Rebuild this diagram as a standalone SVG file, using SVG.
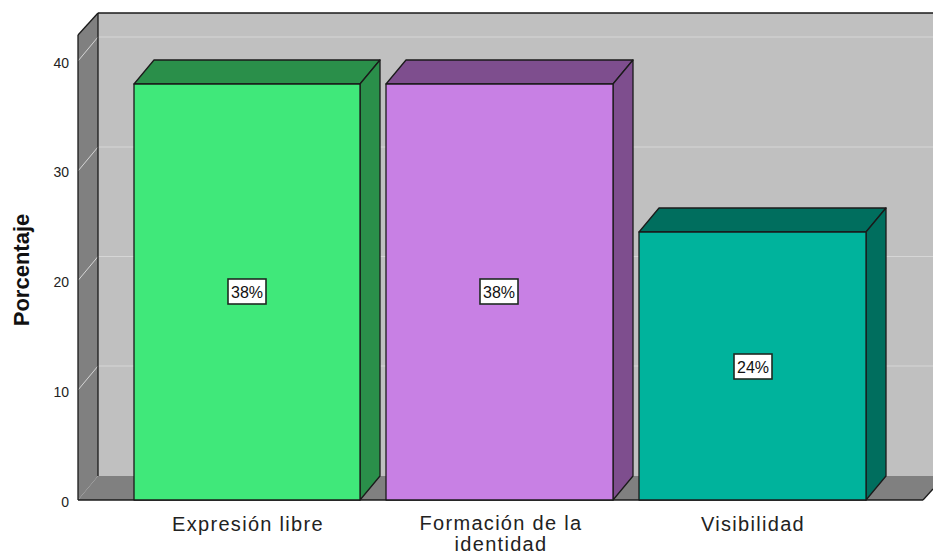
<svg xmlns="http://www.w3.org/2000/svg" width="933" height="557" viewBox="0 0 933 557">
<style>
.tick{font-family:"Liberation Sans",Arial,sans-serif;font-size:14px;fill:#222}
.cat{font-family:"Liberation Sans",Arial,sans-serif;font-size:20px;letter-spacing:1.3px;fill:#222;text-anchor:middle}
.val{font-family:"Liberation Sans",Arial,sans-serif;font-size:16px;fill:#111;text-anchor:middle}
.box{fill:#fff;stroke:#1e2a22;stroke-width:1.6}
.edge{stroke:#1a1a1a;stroke-width:1.3;stroke-linejoin:round}
.grid{stroke:#d6d6d6;stroke-width:1;fill:none}
</style>
<rect width="933" height="557" fill="#fff"/>
<g id="frame">
<polygon points="98,13 933,13 933,476 98,476" fill="#c0c0c0"/>
<polygon points="78,35 98,13 98,476 78,500" fill="#808080"/>
<polygon points="78,500 98,476 933,476 933,489 923,500" fill="#808080"/>
<g class="grid">
<polyline points="78,61 98,37 933,37"/>
<polyline points="78,171 98,147 933,147"/>
<polyline points="78,280.5 98,256.5 933,256.5"/>
<polyline points="78,390 98,366 933,366"/>
</g>
<line x1="98" y1="13" x2="933" y2="13" class="edge"/>
<line x1="78" y1="35" x2="98" y2="13" class="edge"/>
<line x1="98" y1="13" x2="98" y2="476" class="edge"/>
<line x1="78" y1="35" x2="78" y2="500" class="edge"/>
<line x1="78" y1="500" x2="923" y2="500" class="edge"/>
<line x1="923" y1="500" x2="933" y2="489" class="edge"/>
</g>
<g id="axis-labels">
<text class="tick" x="69" y="68" text-anchor="end">40</text>
<text class="tick" x="69" y="177" text-anchor="end">30</text>
<text class="tick" x="69" y="287" text-anchor="end">20</text>
<text class="tick" x="69" y="397" text-anchor="end">10</text>
<text class="tick" x="69" y="507" text-anchor="end">0</text>
<text transform="translate(29,270) rotate(-90)" font-family="Liberation Sans,Arial,sans-serif" font-size="22" font-weight="bold" fill="#111" text-anchor="middle">Porcentaje</text>
</g>
<g id="bar-expresion">
<polygon points="134,84 154,60 380,60 360,84" fill="#2a8f4a" class="edge"/>
<polygon points="360,84 380,60 380,476 360,500" fill="#2a8f4a" class="edge"/>
<rect x="134" y="84" width="226" height="416" fill="#40e87a" class="edge"/>
<rect x="228" y="279" width="38" height="25" class="box"/>
<text class="val" x="247" y="298">38%</text>
<text class="cat" x="248" y="531">Expresión libre</text>
</g>
<g id="bar-formacion">
<polygon points="386,84 406,60 633,60 613,84" fill="#7e4e8e" class="edge"/>
<polygon points="613,84 633,60 633,476 613,500" fill="#7e4e8e" class="edge"/>
<rect x="386" y="84" width="227" height="416" fill="#c880e4" class="edge"/>
<rect x="480" y="279" width="38" height="25" class="box"/>
<text class="val" x="499" y="298">38%</text>
<text class="cat" x="501" y="530">Formación de la</text>
<text class="cat" x="501" y="551">identidad</text>
</g>
<g id="bar-visibilidad">
<polygon points="639,232 659,208 886,208 866,232" fill="#006e5e" class="edge"/>
<polygon points="866,232 886,208 886,476 866,500" fill="#006e5e" class="edge"/>
<rect x="639" y="232" width="227" height="268" fill="#00b39c" class="edge"/>
<rect x="734" y="354" width="38" height="25" class="box"/>
<text class="val" x="753" y="373">24%</text>
<text class="cat" x="753" y="531">Visibilidad</text>
</g>
</svg>
